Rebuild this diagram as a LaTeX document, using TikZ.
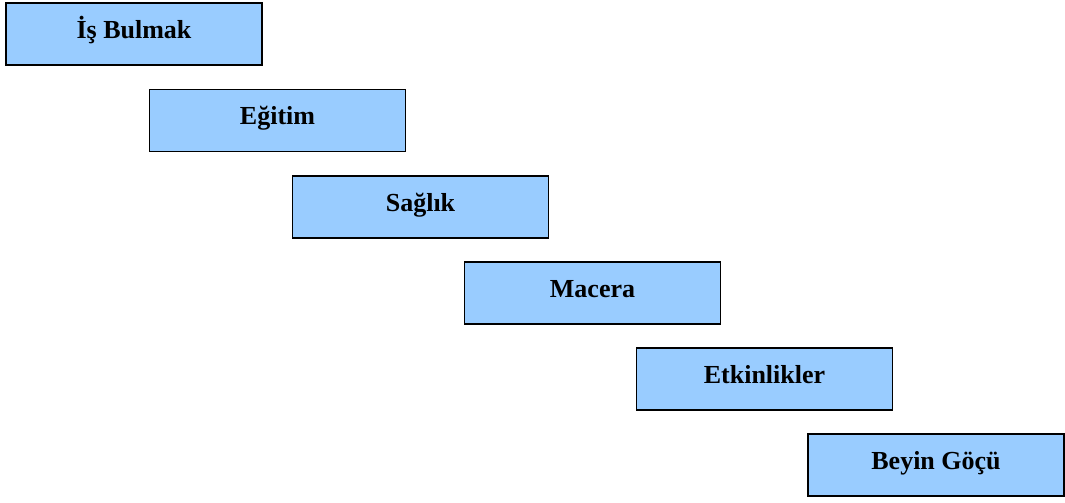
\documentclass[tikz,border=0pt]{standalone}
\usepackage{fontspec}
\setmainfont{Liberation Serif}
\usepackage{tikz}
\usetikzlibrary{positioning}
\definecolor{boxblue}{HTML}{99CCFF}

\begin{document}
\begin{tikzpicture}[x=1pt,y=-1pt,every node/.style={draw=black,fill=boxblue,line width=1.8pt,rectangle,minimum width=256pt,minimum height=62pt,inner sep=0pt,text height=20pt,text depth=12pt,font=\fontsize{26}{30}\selectfont\bfseries}]
  \useasboundingbox (0,0) rectangle (1065,503);
  \node (is) at (134,34) {İş Bulmak};
  \node (egitim) at (277.5,120.5) {Eğitim};
  \node (saglik) at (420.5,207) {Sağlık};
  \node (macera) at (592.5,293) {Macera};
  \node (etkin) at (764.5,379) {Etkinlikler};
  \node (beyin) at (936,465) {Beyin Göçü};
\end{tikzpicture}
\end{document}
